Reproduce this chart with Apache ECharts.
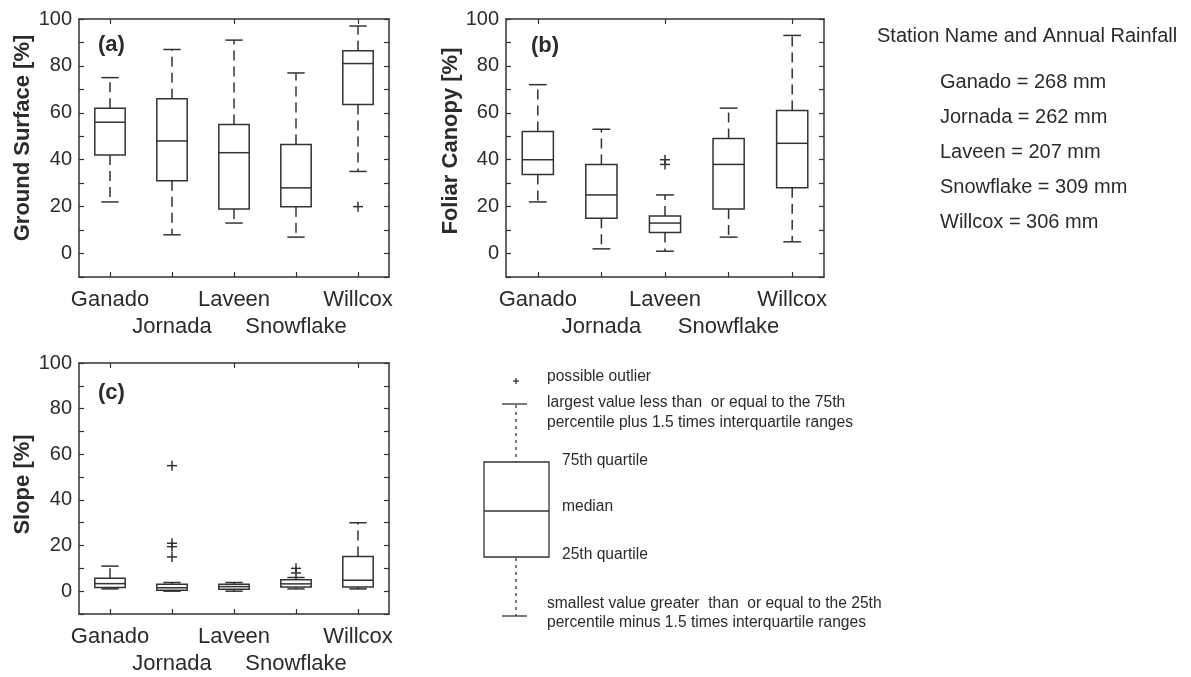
<!DOCTYPE html>
<html>
<head>
<meta charset="utf-8">
<script src="https://cdn.jsdelivr.net/npm/echarts@6/dist/echarts.min.js"></script>
<style>
  html, body { margin: 0; background: #fff; }
  #main { width: 1191px; height: 677px; }
</style>
</head>
<body>
<div id="main"></div>
<script>
const stations = ['Ganado', 'Jornada', 'Laveen', 'Snowflake', 'Willcox'];
const rainfall = [268, 262, 207, 309, 306];

// each row: [low whisker, Q1, median, Q3, high whisker]
const groundBoxes = [
  [22, 42, 56, 62, 75],
  [8, 31, 48, 66, 87],
  [13, 19, 43, 55, 91],
  [7, 20, 28, 46.5, 77],
  [35, 63.5, 81, 86.5, 97]
];
const groundOutliers = [[4, 20]];

const canopyBoxes = [
  [22, 33.7, 40, 52, 72],
  [2, 15, 25, 38, 53],
  [1, 9, 13, 16, 25],
  [7, 19, 38, 49, 62],
  [5, 28, 47, 61, 93]
];
const canopyOutliers = [[2, 40], [2, 38]];

const slopeBoxes = [
  [1, 1.6, 3.3, 5.7, 11],
  [0, 0.4, 1.5, 3, 3.8],
  [0, 0.8, 2, 3, 3.8],
  [1, 1.8, 3.2, 5, 6],
  [1, 1.8, 4.8, 15.2, 30]
];
const slopeOutliers = [[1, 55], [1, 21], [1, 19.5], [1, 15], [3, 10], [3, 8]];

const FONT = '"Liberation Sans", Arial, sans-serif';
const INK = '#2b2b2b';
const LINE = '#333';

const solid = { stroke: LINE, lineWidth: 1.5, fill: null };
const dashed = { stroke: LINE, lineWidth: 1.5, fill: null, lineDash: [10, 6] };

function renderBox(params, api) {
  const i = api.value(0);
  const low = api.coord([i, api.value(1)]);
  const q1 = api.coord([i, api.value(2)]);
  const med = api.coord([i, api.value(3)]);
  const q3 = api.coord([i, api.value(4)]);
  const high = api.coord([i, api.value(5)]);
  const band = api.size([1, 0])[0];
  const half = band * 0.245;
  const cap = band * 0.14;
  const x = q1[0];
  return {
    type: 'group',
    children: [
      { type: 'line', shape: { x1: x, y1: q3[1], x2: x, y2: high[1] }, style: dashed },
      { type: 'line', shape: { x1: x, y1: q1[1], x2: x, y2: low[1] }, style: dashed },
      { type: 'line', shape: { x1: x - cap, y1: high[1], x2: x + cap, y2: high[1] }, style: solid },
      { type: 'line', shape: { x1: x - cap, y1: low[1], x2: x + cap, y2: low[1] }, style: solid },
      { type: 'rect', shape: { x: x - half, y: q3[1], width: half * 2, height: q1[1] - q3[1] }, style: { stroke: LINE, lineWidth: 1.5, fill: 'none' } },
      { type: 'line', shape: { x1: x - half, y1: med[1], x2: x + half, y2: med[1] }, style: solid }
    ]
  };
}

function renderPlus(params, api) {
  const p = api.coord([api.value(0), api.value(1)]);
  const s = 5;
  return {
    type: 'group',
    children: [
      { type: 'line', shape: { x1: p[0] - s, y1: p[1], x2: p[0] + s, y2: p[1] }, style: solid },
      { type: 'line', shape: { x1: p[0], y1: p[1] - s, x2: p[0], y2: p[1] + s }, style: solid }
    ]
  };
}

const grids = [
  { left: 79, top: 19, width: 310, height: 258 },
  { left: 506, top: 19, width: 318, height: 258 },
  { left: 79, top: 363, width: 310, height: 255 }
];
const axisNames = ['Ground Surface [%]', 'Foliar Canopy [%]', 'Slope [%]'];
const nameGaps = [45, 42, 45];
const nameShift = [20, 14, 8];
const panelTags = ['(a)', '(b)', '(c)'];

const xAxes = [];
const yAxes = [];
grids.forEach((g, k) => {
  const line = { show: true, onZero: false, lineStyle: { color: LINE, width: 1.5 } };
  const tick = { show: true, inside: true, alignWithLabel: true, length: 5, lineStyle: { color: LINE, width: 1.2 } };
  xAxes.push({
    type: 'category', gridIndex: k, position: 'bottom', data: stations,
    axisLine: line, axisTick: tick, splitLine: { show: false },
    axisLabel: {
      interval: 0, color: INK, fontFamily: FONT, fontSize: 22, lineHeight: 27, margin: 9,
      formatter: (v, i) => (i % 2 ? '\n' + v : v)
    }
  });
  xAxes.push({
    type: 'category', gridIndex: k, position: 'top', data: stations,
    axisLine: line, axisTick: tick, axisLabel: { show: false }, splitLine: { show: false }
  });
  const ytick = { show: true, inside: true, length: 5, lineStyle: { color: LINE, width: 1.2 } };
  yAxes.push({
    type: 'value', gridIndex: k, position: 'left', min: -10, max: 100, interval: 10,
    axisLine: line, axisTick: ytick, splitLine: { show: false },
    axisLabel: {
      color: INK, fontFamily: FONT, fontSize: 20, margin: 7,
      formatter: v => (v >= 0 && v % 20 === 0 ? String(v) : '')
    },
    name: axisNames[k], nameLocation: 'middle', nameGap: nameGaps[k],
    nameTextStyle: {
      color: INK, fontFamily: FONT, fontSize: 22, fontWeight: 'bold',
      padding: [0, 0, 0, nameShift[k]]
    }
  });
  yAxes.push({
    type: 'value', gridIndex: k, position: 'right', min: -10, max: 100, interval: 10,
    axisLine: line, axisTick: ytick, splitLine: { show: false }, axisLabel: { show: false }
  });
});

const boxSets = [groundBoxes, canopyBoxes, slopeBoxes];
const outlierSets = [groundOutliers, canopyOutliers, slopeOutliers];
const series = [];
boxSets.forEach((boxes, k) => {
  series.push({
    type: 'custom', xAxisIndex: k * 2, yAxisIndex: k * 2,
    renderItem: renderBox,
    encode: { x: 0, y: [1, 2, 3, 4, 5] },
    data: boxes.map((b, i) => [i].concat(b)),
    silent: true
  });
  series.push({
    type: 'custom', xAxisIndex: k * 2, yAxisIndex: k * 2,
    renderItem: renderPlus,
    encode: { x: 0, y: 1 },
    data: outlierSets[k],
    silent: true
  });
});

function text(str, x, y, size, weight) {
  return {
    type: 'text', x: x, y: y, silent: true,
    style: { text: str, fill: INK, font: (weight || 'normal') + ' ' + size + 'px ' + FONT, align: 'left', verticalAlign: 'middle' }
  };
}
function seg(x1, y1, x2, y2, dash) {
  return {
    type: 'line', silent: true, shape: { x1, y1, x2, y2 },
    style: { stroke: LINE, lineWidth: 1.3, lineDash: dash || null }
  };
}

const graphics = [];
// panel tags
graphics.push(text(panelTags[0], 98, 45, 22, 'bold'));
graphics.push(text(panelTags[1], 531, 46, 22, 'bold'));
graphics.push(text(panelTags[2], 98, 393, 22, 'bold'));

// station / rainfall list
graphics.push(text('Station Name and Annual Rainfall', 877, 36, 20));
stations.forEach((s, i) => {
  graphics.push(text(s + ' = ' + rainfall[i] + ' mm', 940, 82 + i * 35, 20));
});

// box-plot key
graphics.push(seg(513, 381, 519, 381), seg(516, 378, 516, 384));
graphics.push(seg(502, 404, 527, 404), seg(516, 405, 516, 462, [3, 4]));
graphics.push({ type: 'rect', silent: true, shape: { x: 484, y: 462, width: 65, height: 95 }, style: { stroke: LINE, lineWidth: 1.3, fill: 'none' } });
graphics.push(seg(484, 511, 549, 511));
graphics.push(seg(516, 558, 516, 616, [3, 4]), seg(502, 616, 527, 616));
const keySize = 15.6;
graphics.push(text('possible outlier', 547, 377, keySize));
graphics.push(text('largest value less than  or equal to the 75th', 547, 403, keySize));
graphics.push(text('percentile plus 1.5 times interquartile ranges', 547, 423, keySize));
graphics.push(text('75th quartile', 562, 461, keySize));
graphics.push(text('median', 562, 507, keySize));
graphics.push(text('25th quartile', 562, 555, keySize));
graphics.push(text('smallest value greater  than  or equal to the 25th', 547, 604, keySize));
graphics.push(text('percentile minus 1.5 times interquartile ranges', 547, 623, keySize));

const chart = echarts.init(document.getElementById('main'));
chart.setOption({
  animation: false,
  backgroundColor: '#fff',
  textStyle: { fontFamily: FONT },
  grid: grids,
  xAxis: xAxes,
  yAxis: yAxes,
  series: series,
  graphic: graphics
});
</script>
</body>
</html>
